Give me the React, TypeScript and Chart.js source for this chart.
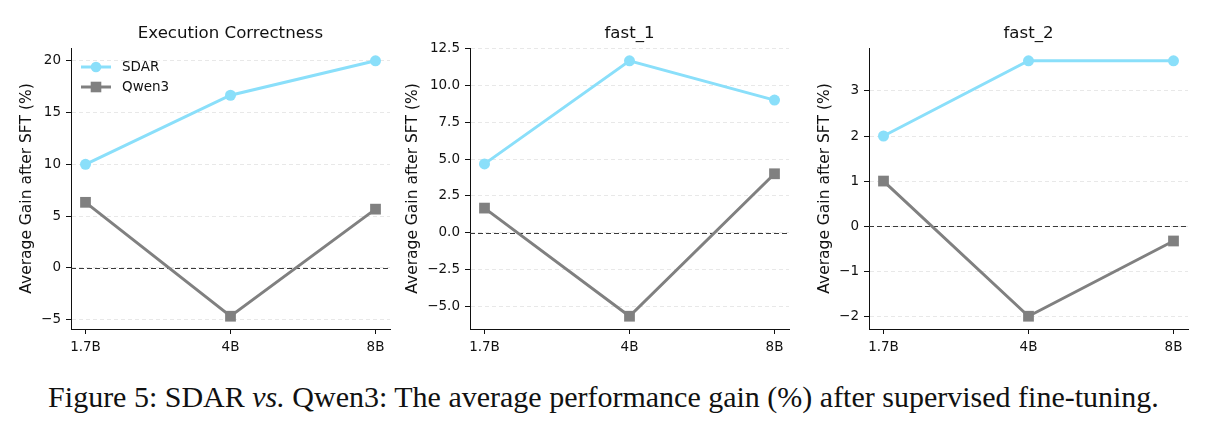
import React, { useEffect, useRef } from "react";
import { Chart, registerables } from "chart.js";

Chart.register(...registerables);

const categories = ["1.7B", "4B", "8B"];
const seriesNames = ["SDAR", "Qwen3"];

const titles = ["Execution Correctness", "fast_1", "fast_2"];

const sdarExec = [10, 16.67, 20];
const qwenExec = [6.33, -4.67, 5.67];
const sdarFast1 = [4.67, 11.67, 9.0];
const qwenFast1 = [1.67, -5.67, 4.0];
const sdarFast2 = [2.0, 3.67, 3.67];
const qwenFast2 = [1.0, -2.0, -0.33];

const yTicksExec = [-5, 0, 5, 10, 15, 20];
const yTicksFast1 = [-5, -2.5, 0, 2.5, 5, 7.5, 10, 12.5];
const yTicksFast2 = [-2, -1, 0, 1, 2, 3];
const xTicks = [0, 1, 2];

const yLabel = "Average Gain after SFT (%)";

const SDAR_COLOR = "#8ADFFA";
const QWEN_COLOR = "#808080";
const FONT = "'DejaVu Sans', sans-serif";
const TICK_SIZE = 13.5;
const YLABEL_SIZE = 15.5;

type PanelCfg = {
  title: string;
  sdar: number[];
  qwen: number[];
  yTicks: number[];
  decimals: number;
  canvasLeft: number;
  canvasWidth: number;
  areaLeft: number;
  areaRight: number;
  labelCenter: number;
  legend: boolean;
};

const panels: PanelCfg[] = [
  { title: titles[0], sdar: sdarExec, qwen: qwenExec, yTicks: yTicksExec, decimals: 0, canvasLeft: 0, canvasWidth: 400, areaLeft: 71, areaRight: 390, labelCenter: 27, legend: true },
  { title: titles[1], sdar: sdarFast1, qwen: qwenFast1, yTicks: yTicksFast1, decimals: 1, canvasLeft: 400, canvasWidth: 400, areaLeft: 470, areaRight: 789, labelCenter: 13, legend: false },
  { title: titles[2], sdar: sdarFast2, qwen: qwenFast2, yTicks: yTicksFast2, decimals: 0, canvasLeft: 800, canvasWidth: 400, areaLeft: 869, areaRight: 1188, labelCenter: 25, legend: false },
];

const CANVAS_H = 360;
const AREA_TOP = 48;
const AREA_BOTTOM = 329;

function fmt(v: number, d: number) {
  return v.toFixed(d).replace("-", "\u2212");
}

function Panel({ cfg }: { cfg: PanelCfg }) {
  const ref = useRef<HTMLCanvasElement | null>(null);
  useEffect(() => {
    if (!ref.current) return;
    const all = [...cfg.sdar, ...cfg.qwen];
    const dmin = Math.min(...all);
    const dmax = Math.max(...all);
    const m = (dmax - dmin) * 0.05;
    const yWidth = cfg.areaLeft - cfg.canvasLeft;
    const rightPad = cfg.canvasLeft + cfg.canvasWidth - cfg.areaRight;
    const labelPad = cfg.labelCenter - (YLABEL_SIZE * 1.2) / 2;

    const decor = {
      id: "decor",
      beforeDatasetsDraw(chart: any) {
        const { ctx, chartArea } = chart;
        const y0 = Math.round(chart.scales.y.getPixelForValue(0)) + 0.5;
        ctx.save();
        ctx.strokeStyle = "#3a3a3a";
        ctx.lineWidth = 1;
        ctx.setLineDash([5, 3]);
        ctx.beginPath();
        ctx.moveTo(chartArea.left, y0);
        ctx.lineTo(chartArea.right, y0);
        ctx.stroke();
        ctx.restore();
      },
      afterDraw(chart: any) {
        const { ctx, chartArea } = chart;
        ctx.save();
        ctx.fillStyle = "#111";
        ctx.font = `16.6px ${FONT}`;
        ctx.textAlign = "center";
        ctx.textBaseline = "middle";
        ctx.fillText(cfg.title, (chartArea.left + chartArea.right) / 2, 34);
        if (cfg.legend) {
          const rows = [
            { name: seriesNames[0], color: SDAR_COLOR, style: "circle", y: chartArea.top + 19 },
            { name: seriesNames[1], color: QWEN_COLOR, style: "rect", y: chartArea.top + 39 },
          ];
          for (const r of rows) {
            const x1 = chartArea.left + 10;
            const x2 = chartArea.left + 40;
            ctx.strokeStyle = r.color;
            ctx.lineWidth = 3;
            ctx.setLineDash([]);
            ctx.beginPath();
            ctx.moveTo(x1, r.y);
            ctx.lineTo(x2, r.y);
            ctx.stroke();
            ctx.fillStyle = r.color;
            const cx = (x1 + x2) / 2;
            if (r.style === "circle") {
              ctx.beginPath();
              ctx.arc(cx, r.y, 5.3, 0, Math.PI * 2);
              ctx.fill();
            } else {
              ctx.fillRect(cx - 5.3, r.y - 5.3, 10.6, 10.6);
            }
            ctx.fillStyle = "#111";
            ctx.font = `${TICK_SIZE}px ${FONT}`;
            ctx.textAlign = "left";
            ctx.textBaseline = "middle";
            ctx.fillText(r.name, chartArea.left + 51, r.y);
          }
        }
        ctx.restore();
      },
    };

    const chart = new Chart(ref.current, {
      type: "line",
      data: {
        datasets: [
          {
            label: seriesNames[0],
            data: cfg.sdar.map((v, i) => ({ x: i, y: v })),
            borderColor: SDAR_COLOR,
            backgroundColor: SDAR_COLOR,
            borderWidth: 3,
            pointStyle: "circle",
            pointRadius: 5.5,
            pointBorderWidth: 0,
            tension: 0,
          },
          {
            label: seriesNames[1],
            data: cfg.qwen.map((v, i) => ({ x: i, y: v })),
            borderColor: QWEN_COLOR,
            backgroundColor: QWEN_COLOR,
            borderWidth: 3,
            pointStyle: "rect",
            pointRadius: 7.6,
            pointBorderWidth: 0,
            tension: 0,
          },
        ],
      },
      options: {
        animation: false,
        responsive: false,
        devicePixelRatio: 1,
        layout: { padding: { left: 0, right: rightPad, top: AREA_TOP, bottom: 0 } },
        plugins: { legend: { display: false }, title: { display: false }, tooltip: { enabled: false } },
        scales: {
          x: {
            type: "linear",
            min: -0.1,
            max: 2.1,
            afterBuildTicks: (s: any) => {
              s.ticks = xTicks.map((v) => ({ value: v }));
            },
            afterFit: (s: any) => {
              s.height = CANVAS_H - AREA_BOTTOM;
            },
            ticks: {
              callback: (v: any) => categories[Number(v)] ?? "",
              font: { family: FONT, size: TICK_SIZE },
              color: "#111",
              padding: 5,
              maxRotation: 0,
              autoSkip: false,
            },
            grid: { display: true, drawOnChartArea: false, drawTicks: true, tickLength: 5, tickColor: "#111", tickWidth: 1 },
            border: { display: true, color: "#111", width: 1 },
          },
          y: {
            type: "linear",
            min: dmin - m,
            max: dmax + m,
            afterBuildTicks: (s: any) => {
              s.ticks = cfg.yTicks.map((v) => ({ value: v }));
            },
            afterFit: (s: any) => {
              s.width = yWidth;
            },
            ticks: {
              callback: (v: any) => fmt(Number(v), cfg.decimals),
              font: { family: FONT, size: TICK_SIZE },
              color: "#111",
              padding: 5,
              autoSkip: false,
            },
            grid: {
              display: true,
              drawOnChartArea: true,
              drawTicks: true,
              tickLength: 5,
              color: "#e8e8e8",
              lineWidth: 1,
              tickColor: "#111",
              tickWidth: 1,
              tickBorderDash: [],
            },
            border: { display: true, color: "#111", width: 1, dash: [4, 3] },
            title: {
              display: true,
              text: yLabel,
              font: { family: FONT, size: YLABEL_SIZE },
              color: "#111",
              padding: { top: labelPad, bottom: 0 },
            },
          },
        },
      },
      plugins: [decor],
    } as any);
    return () => chart.destroy();
  }, [cfg]);

  return (
    <canvas
      ref={ref}
      width={cfg.canvasWidth}
      height={CANVAS_H}
      style={{ position: "absolute", left: cfg.canvasLeft, top: 0, width: cfg.canvasWidth, height: CANVAS_H }}
    />
  );
}

export default function App() {
  return (
    <div style={{ position: "absolute", left: 0, top: 0, width: 1207, height: 429, background: "#fff", overflow: "hidden" }}>
      {panels.map((p, i) => (
        <Panel key={i} cfg={p} />
      ))}
      <div
        style={{
          position: "absolute",
          left: 0,
          top: 382,
          width: 1207,
          textAlign: "center",
          fontFamily: "'Liberation Serif', 'Times New Roman', serif",
          fontSize: 30,
          lineHeight: "30px",
          color: "#111",
          whiteSpace: "nowrap",
        }}
      >
        Figure 5: SDAR <i>vs.</i> Qwen3: The average performance gain (%) after supervised fine-tuning.
      </div>
    </div>
  );
}
